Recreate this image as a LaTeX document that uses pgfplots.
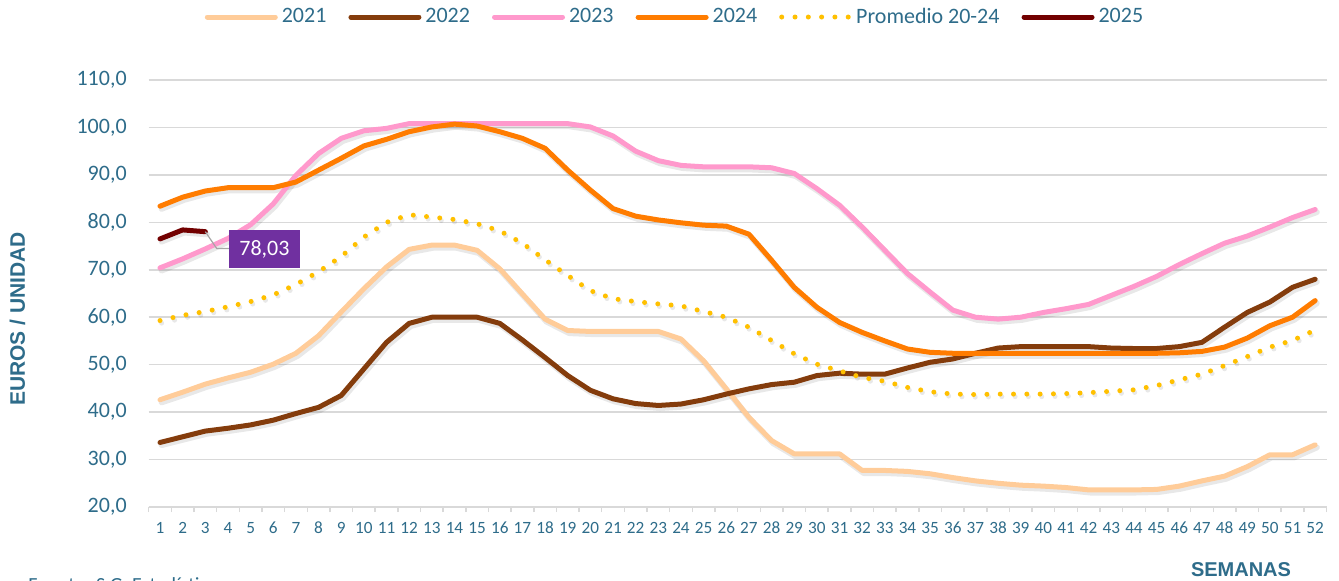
\documentclass[border=0pt]{standalone}
\usepackage{pgfplots}
\pgfplotsset{compat=1.18}
\usepackage{pgfplotstable}
\usepackage{fontspec}
\setmainfont{Carlito}
\newfontfamily\arial{Liberation Sans}

\definecolor{c21}{HTML}{FFCC99}
\definecolor{c22}{HTML}{843C0C}
\definecolor{c23}{HTML}{FF99CC}
\definecolor{c24}{HTML}{FF7C00}
\definecolor{cprom}{HTML}{FFC000}
\definecolor{c25}{HTML}{720000}
\definecolor{purp}{HTML}{7030A0}
\definecolor{gridc}{HTML}{D9D9D9}
\definecolor{txt}{HTML}{2E6C8A}

% precio medio semanal, euros/unidad
\pgfplotstableread{
w  y21  y22  y23   y24   prom
1  42.6 33.6 70.4  83.4  59.3
2  44.2 34.8 72.3  85.3  60.4
3  45.9 36.0 74.4  86.6  61.2
4  47.2 36.6 76.6  87.3  62.2
5  48.4 37.3 79.5  87.3  63.3
6  50.1 38.3 83.9  87.3  64.7
7  52.4 39.7 89.9  88.5  66.9
8  56.1 41.0 94.5  91.0  69.6
9  61.1 43.5 97.7  93.5  72.8
10 66.0 49.1 99.3  96.1  76.9
11 70.6 54.7 99.8  97.5  80.0
12 74.3 58.7 100.8 99.1  81.6
13 75.2 60.0 100.8 100.1 81.1
14 75.2 60.0 100.8 100.7 80.6
15 74.1 60.0 100.8 100.3 79.7
16 70.2 58.7 100.8 99.1  78.2
17 64.9 55.2 100.8 97.7  75.6
18 59.6 51.5 100.8 95.6  72.1
19 57.2 47.7 100.8 91.0  68.8
20 57.0 44.6 100.1 86.8  65.6
21 57.0 42.8 98.2  82.9  63.9
22 57.0 41.8 95.0  81.3  63.3
23 57.0 41.4 93.0  80.5  62.8
24 55.4 41.7 92.0  79.9  62.4
25 50.8 42.6 91.7  79.4  61.2
26 44.9 43.8 91.7  79.2  60.0
27 38.9 44.9 91.7  77.5  57.9
28 34.0 45.8 91.5  72.0  55.1
29 31.2 46.3 90.3  66.3  52.3
30 31.2 47.7 87.1  62.1  50.1
31 31.2 48.2 83.6  58.9  48.7
32 27.7 48.0 79.0  56.8  47.3
33 27.7 48.0 74.1  55.0  46.5
34 27.5 49.3 69.2  53.3  45.2
35 27.0 50.5 65.3  52.6  44.3
36 26.2 51.2 61.5  52.4  43.8
37 25.5 52.4 60.0  52.4  43.7
38 25.0 53.5 59.6  52.4  43.8
39 24.6 53.8 60.0  52.4  43.8
40 24.4 53.8 61.0  52.4  43.8
41 24.1 53.8 61.8  52.4  43.9
42 23.6 53.8 62.7  52.4  44.1
43 23.6 53.5 64.6  52.4  44.4
44 23.6 53.4 66.5  52.4  44.7
45 23.7 53.4 68.6  52.4  45.6
46 24.4 53.8 71.1  52.5  46.8
47 25.5 54.7 73.4  52.8  48.0
48 26.5 57.9 75.6  53.7  49.8
49 28.5 61.0 77.1  55.6  51.7
50 31.0 63.2 79.0  58.2  53.7
51 31.0 66.3 81.0  60.0  55.1
52 33.1 68.0 82.7  63.5  57.3
}\datos

\pgfplotstableread{
w  y25
1  76.5
2  78.4
3  78.03
}\datosb

\tikzset{
  serie/.style={line width=2.5pt, line cap=round, line join=round},
  sombra/.style={black, opacity=0.09, line width=3pt, line cap=round, line join=round,
    transform canvas={xshift=0.8pt, yshift=-1.3pt}},
}

\begin{document}
\begin{tikzpicture}
\begin{axis}[
  at={(74.35pt,37pt)}, anchor=south west,
  width=588.9pt, height=213.5pt, scale only axis,
  xmin=0.5, xmax=52.5, ymin=20, ymax=110,
  xtick={1,...,52},
  minor xtick={0.5,1.5,...,52.5},
  ytick={20,30,...,110},
  axis x line*=bottom, axis y line*=left,
  x axis line style={draw=gridc, line width=0.75pt},
  y axis line style={draw=none},
  ymajorgrids, grid style={gridc, line width=0.75pt},
  major tick length=0pt, minor tick length=2.6pt, tick align=outside,
  minor tick style={gridc, line width=0.75pt},
  ytick style={draw=none},
  ticklabel style={text=txt},
  /pgf/number format/assume math mode=true,
  yticklabel style={font=\fontsize{11}{13}\selectfont, xshift=-7.5pt,
    /pgf/number format/.cd, fixed, fixed zerofill, precision=1, use comma},
  xticklabel style={font=\fontsize{8.6}{10}\selectfont, yshift=-4pt},
  clip=false,
  legend style={at={(0.4477,1.1475)}, anchor=center, draw=none, fill=none,
    font=\fontsize{11}{13}\selectfont, text=txt,
    /tikz/every even column/.append style={column sep=9pt}},
  legend columns=-1,
  legend image code/.code={\draw[#1] (0pt,0pt) -- (34pt,0pt);},
]
% sombras
\addplot[sombra, forget plot] table[x=w, y=y21] {\datos};
\addplot[sombra, forget plot] table[x=w, y=y22] {\datos};
\addplot[sombra, forget plot] table[x=w, y=y23] {\datos};
\addplot[sombra, forget plot] table[x=w, y=y24] {\datos};
\addplot[sombra, forget plot, line width=2.5pt, dash pattern=on 0pt off 6.65pt] table[x=w, y=prom] {\datos};
\addplot[sombra, forget plot] table[x=w, y=y25] {\datosb};
% series
\addplot[serie, c21] table[x=w, y=y21] {\datos};
\addlegendentry{2021}
\addplot[serie, c22] table[x=w, y=y22] {\datos};
\addlegendentry{2022}
\addplot[serie, c23] table[x=w, y=y23] {\datos};
\addlegendentry{2023}
\addplot[serie, c24] table[x=w, y=y24] {\datos};
\addlegendentry{2024}
\addplot[serie, cprom, dash pattern=on 0pt off 6.65pt] table[x=w, y=prom] {\datos};
\addlegendentry{Promedio 20-24}
\addplot[serie, c25] table[x=w, y=y25] {\datosb};
\addlegendentry{2025}
% etiqueta del ultimo dato
\draw[gray!70, line width=0.6pt] (axis cs:3,78.03) -- (axis cs:3.5,74.5) -- (axis cs:4.05,74.5);
\node[fill=purp, text=white, minimum width=35.5pt, minimum height=19pt, inner sep=0pt,
  font=\fontsize{11}{13}\selectfont] at (axis cs:5.61,74.4) {78,03};
\end{axis}
\node[rotate=90, text=txt, font=\arial\bfseries\fontsize{10.5}{12}\selectfont] at (8.75pt,131pt) {EUROS / UNIDAD};
\node[text=txt, font=\arial\bfseries\fontsize{10}{12}\selectfont] at (620.5pt,5.5pt) {SEMANAS};
\node[anchor=base west, inner sep=0pt, text=txt, font=\fontsize{10}{12}\selectfont] at (14pt,-5.5pt) {Fuente: S.G. Estadística};
\pgfresetboundingbox
\useasboundingbox (0,0) rectangle (669.5pt,290.5pt);
\end{tikzpicture}
\end{document}
